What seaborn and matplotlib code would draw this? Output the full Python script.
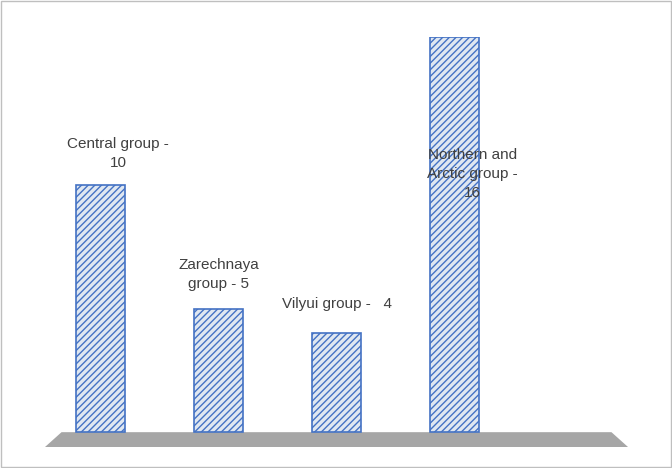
import matplotlib
matplotlib.use("Agg")
import matplotlib.pyplot as plt
import seaborn as sns
import pandas as pd
from matplotlib.patches import Polygon, Rectangle

groups = ["Central group", "Zarechnaya group", "Vilyui group", "Northern and Arctic group"]
counts = [10, 5, 4, 16]
labels = ["Central group -\n10", "Zarechnaya\ngroup - 5", "Vilyui group -   4", "Northern and\nArctic group -\n16"]

sns.set_style("white")
plt.rcParams["font.family"] = ["Liberation Sans", "DejaVu Sans"]
plt.rcParams["hatch.color"] = "#4472c4"

fig = plt.figure(figsize=(6.72, 4.68), dpi=100)
fig.patches.append(Rectangle((0.002, 0.002), 0.996, 0.996, transform=fig.transFigure,
                             fill=False, edgecolor="#bfbfbf", linewidth=1))
ax = fig.add_axes([45 / 672, (468 - 447) / 468, 583 / 672, 410 / 468])

# grey floor
ax.add_patch(Polygon([[-0.47, -0.6], [4.47, -0.6], [4.33, 0.0], [-0.33, 0.0]],
                     closed=True, facecolor="#a6a6a6", edgecolor="none", zorder=0))

df = pd.DataFrame({"group": groups, "count": counts})
sns.barplot(data=df, x="group", y="count", ax=ax, width=0.42,
            color="#dce6f4", edgecolor="#4472c4", linewidth=1.2, hatch="/////")
for p in ax.patches:
    p.set_zorder(2)

label_y = [10.6, 5.7, 4.9, 9.4]
for i, (t, y) in enumerate(zip(labels, label_y)):
    ax.text(i + 0.15 if i in (0, 3) else i, y, t, ha="center", va="bottom",
            fontsize=11, color="#404040", linespacing=1.45, zorder=3)

ax.set_xlim(-0.47, 4.47)
ax.set_ylim(-0.6, 16)
ax.axis("off")
fig.savefig("out.png", dpi=100)
